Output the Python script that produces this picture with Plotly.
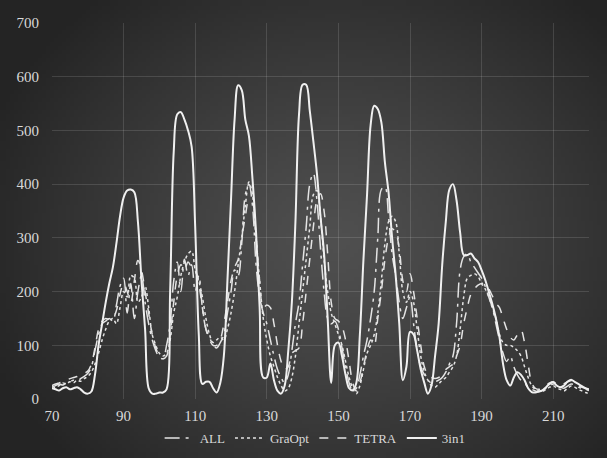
import base64, struct, zlib
import numpy as np
import plotly.graph_objects as go

x_vals = list(range(70, 221))

all_vals = [22, 25, 28, 26, 30, 32, 35, 33, 38, 42, 48, 60, 90, 120, 140, 145, 150, 145, 175, 210,
            225, 160, 215, 150, 200, 230, 180, 140, 110, 90, 78, 75, 100, 140, 220, 255, 200, 260, 230, 250,
            200, 230, 170, 130, 115, 100, 95, 105, 120, 160, 200, 240, 230, 290, 380, 400, 360, 250, 190, 160,
            140, 110, 80, 55, 40, 30, 45, 90, 140, 180, 250, 320, 400, 420, 370, 280, 200, 150, 140, 145,
            130, 95, 60, 30, 15, 20, 45, 80, 110, 150, 200, 300, 390, 395, 340, 270, 230, 180, 150, 170,
            190, 140, 90, 60, 45, 35, 30, 32, 35, 40, 50, 65, 80, 140, 240, 265, 270, 255, 245, 235,
            225, 210, 190, 170, 140, 110, 85, 70, 80, 60, 45, 35, 30, 22, 18, 15, 14, 16, 20, 24,
            28, 25, 22, 20, 24, 28, 26, 22, 20, 18, 16]

graopt_vals = [20, 22, 25, 30, 28, 32, 30, 35, 33, 38, 42, 50, 65, 85, 110, 130, 145, 150, 140, 170,
               200, 190, 230, 225, 180, 190, 210, 170, 120, 100, 85, 80, 85, 110, 160, 190, 230, 255, 270, 275,
               240, 220, 190, 150, 120, 105, 110, 115, 110, 130, 160, 200, 250, 300, 360, 404, 380, 300, 220, 150,
               110, 80, 60, 40, 25, 15, 20, 40, 80, 140, 200, 260, 320, 380, 388, 340, 260, 200, 160, 140,
               120, 100, 70, 40, 20, 10, 25, 55, 85, 100, 120, 160, 220, 290, 330, 340, 330, 270, 200, 180,
               200, 180, 130, 80, 50, 35, 25, 22, 28, 35, 40, 50, 60, 80, 130, 190, 225, 230, 233, 228,
               215, 205, 190, 170, 150, 120, 105, 100, 100, 96, 90, 80, 60, 40, 25, 18, 15, 14, 18, 22,
               25, 20, 18, 15, 20, 24, 22, 18, 15, 12, 10]

tetra_vals = [25, 28, 30, 32, 35, 38, 40, 42, 45, 48, 52, 65, 95, 130, 145, 150, 148, 150, 165, 195,
              215, 200, 180, 220, 258, 240, 200, 160, 120, 95, 80, 75, 80, 120, 180, 230, 250, 240, 255, 245,
              240, 215, 170, 130, 110, 100, 100, 110, 140, 180, 220, 245, 260, 300, 340, 370, 365, 300, 220, 170,
              175, 170, 140, 100, 70, 55, 60, 85, 90, 95, 140, 200, 260, 320, 370, 382, 350, 270, 180, 150,
              145, 135, 110, 70, 30, 15, 30, 60, 90, 110, 100, 150, 200, 260, 300, 317, 310, 280, 220, 200,
              233, 200, 150, 100, 60, 45, 40, 38, 40, 45, 55, 60, 65, 80, 100, 140, 170, 195, 205, 212,
              215, 215, 205, 192, 178, 170, 150, 130, 115, 110, 120, 128, 105, 65, 30, 20, 18, 20, 25, 30,
              32, 28, 25, 28, 32, 34, 30, 25, 22, 20, 15]

in1_vals = [20, 18, 16, 20, 22, 18, 20, 22, 18, 12, 10, 14, 45, 100, 140, 180, 215, 245, 290, 340,
            375, 388, 390, 385, 330, 220, 130, 20, 10, 10, 12, 12, 18, 200, 460, 530, 534, 520, 500, 470,
            320, 120, 28, 32, 32, 20, 12, 30, 80, 220, 370, 520, 584, 575, 520, 490, 410, 310, 170, 40,
            40, 66, 35, 15, 10, 25, 90, 180, 330, 530, 585, 585, 537, 480, 420, 340, 270, 150, 30, 100,
            105, 80, 45, 20, 16, 30, 120, 260, 380, 510, 546, 540, 515, 440, 385, 300, 230, 140, 35, 60,
            125, 120, 90, 55, 30, 10, 25, 80, 140, 250, 330, 390, 400, 370, 310, 268, 268, 271, 262, 255,
            240, 222, 200, 177, 150, 115, 65, 35, 25, 40, 50, 45, 35, 20, 13, 12, 14, 16, 22, 28,
            31, 25, 22, 25, 32, 36, 32, 28, 24, 20, 18]

x_ticks = [70, 90, 110, 130, 150, 170, 190, 210]
y_ticks = [0, 100, 200, 300, 400, 500, 600, 700]

W, H = 607, 458
L, R, T, B = 52, 18, 23, 59


def make_png(w, h):
    yy, xx = np.mgrid[0:h, 0:w].astype(float)
    cx, cy = w * 0.55, h * 0.52
    d = np.sqrt(((xx - cx) / (w * 0.62)) ** 2 + ((yy - cy) / (h * 0.70)) ** 2)
    d = np.clip(d, 0, 1)
    c = (80 - 44 * d ** 1.2).astype(np.uint8)
    raw = b"".join(b"\x00" + bytes(np.repeat(row, 3).tolist()) for row in c)

    def chunk(tag, data):
        return struct.pack(">I", len(data)) + tag + data + struct.pack(">I", zlib.crc32(tag + data) & 0xffffffff)

    png = b"\x89PNG\r\n\x1a\n" + chunk(b"IHDR", struct.pack(">IIBBBBB", w, h, 8, 2, 0, 0, 0))
    png += chunk(b"IDAT", zlib.compress(raw, 9)) + chunk(b"IEND", b"")
    return "data:image/png;base64," + base64.b64encode(png).decode()


bg = make_png(152, 115)
pw, ph = W - L - R, H - T - B

fig = go.Figure()
line_col = "#e4e4e4"
fig.add_trace(go.Scatter(x=x_vals, y=all_vals, name="ALL", mode="lines", line_shape="spline",
                         line=dict(color=line_col, width=1.5, dash="longdashdot")))
fig.add_trace(go.Scatter(x=x_vals, y=graopt_vals, name="GraOpt", mode="lines", line_shape="spline",
                         line=dict(color=line_col, width=1.5, dash="dot")))
fig.add_trace(go.Scatter(x=x_vals, y=tetra_vals, name="TETRA", mode="lines", line_shape="spline",
                         line=dict(color=line_col, width=1.5, dash="dash")))
fig.add_trace(go.Scatter(x=x_vals, y=in1_vals, name="3in1", mode="lines", line_shape="spline",
                         line=dict(color="#f0f0f0", width=2)))

fig.update_layout(
    width=W, height=H,
    margin=dict(l=L, r=R, t=T, b=B, autoexpand=False),
    paper_bgcolor="#262626",
    plot_bgcolor="rgba(0,0,0,0)",
    font=dict(family="Liberation Serif, Times New Roman, serif", size=15, color="#d9d9d9"),
    images=[dict(source=bg, xref="paper", yref="paper", x=-L / pw, y=1 + T / ph,
                 sizex=W / pw, sizey=H / ph, sizing="stretch", layer="below",
                 xanchor="left", yanchor="top")],
    showlegend=True,
    legend=dict(orientation="h", x=0.49, xanchor="center", y=-39.0 / ph, yanchor="middle",
                font=dict(size=13, color="#d9d9d9"), bgcolor="rgba(0,0,0,0)",
                itemwidth=30, tracegroupgap=0),
    xaxis=dict(range=[70, 220], tickvals=x_ticks, ticktext=[str(v) for v in x_ticks],
               showgrid=True, gridcolor="rgba(255,255,255,0.13)", gridwidth=1,
               zeroline=False, showline=False, ticks="", ticklabelstandoff=6,
               tickfont=dict(size=15, color="#d9d9d9")),
    yaxis=dict(range=[0, 700], tickvals=y_ticks, ticktext=[str(v) for v in y_ticks],
               showgrid=True, gridcolor="rgba(255,255,255,0.13)", gridwidth=1,
               zeroline=False, showline=False, ticks="", ticklabelstandoff=12,
               tickfont=dict(size=15, color="#d9d9d9")),
)

fig.write_html("out.html",
               config={"displayModeBar": False},
               post_script="document.body.style.margin='0';document.body.style.overflow='hidden';"
                           "document.body.style.background='#262626';")
